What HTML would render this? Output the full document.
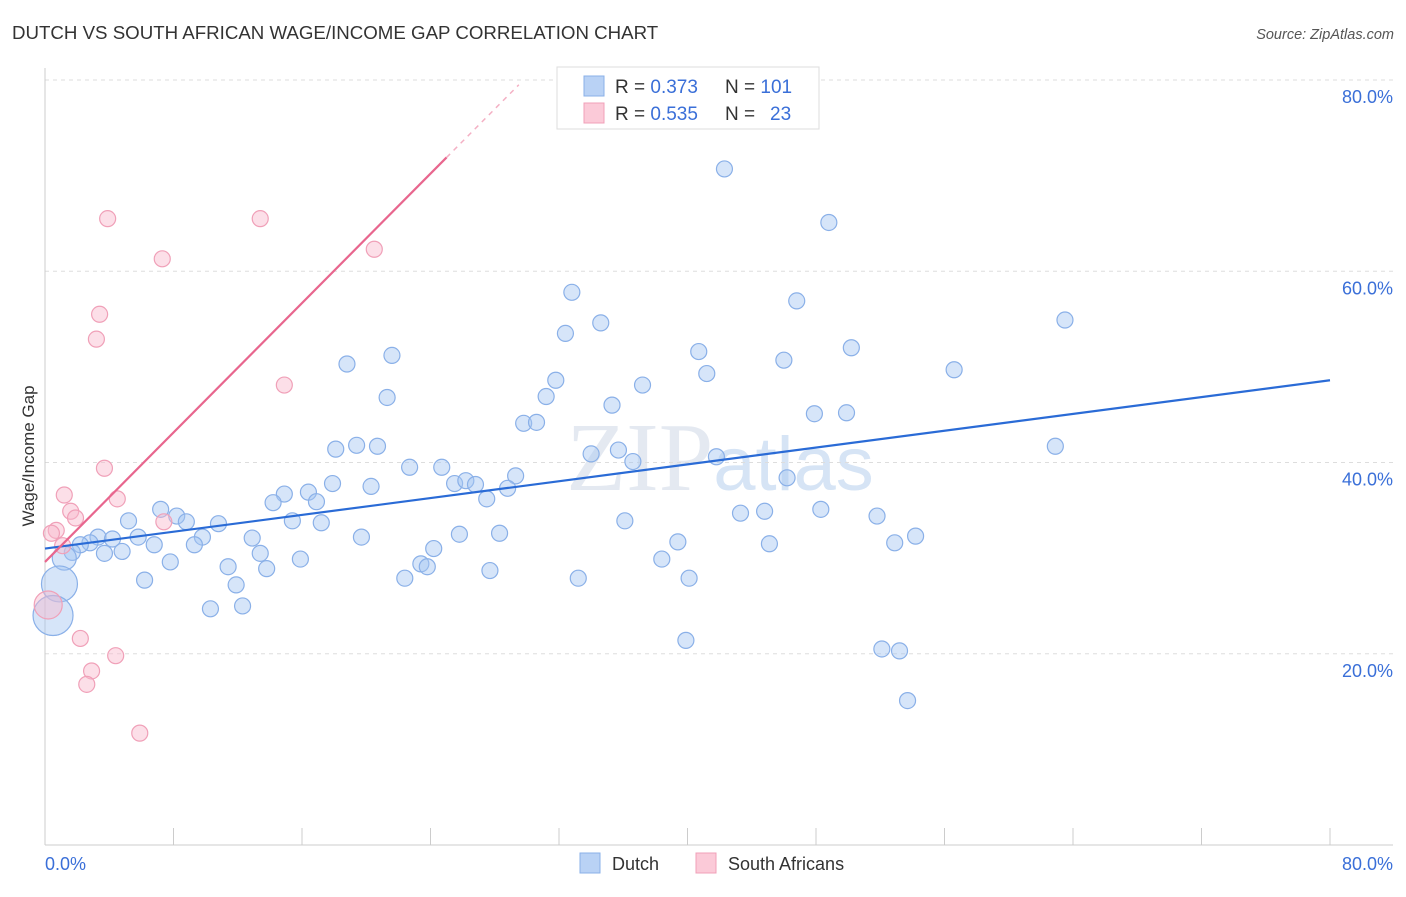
<!DOCTYPE html>
<html><head><meta charset="utf-8"><style>
body{margin:0;background:#fff;font-family:"Liberation Sans",sans-serif;}
</style></head><body>
<svg id="chart" width="1406" height="892" xmlns="http://www.w3.org/2000/svg" style="font-family:'Liberation Sans',sans-serif">
<text x="12" y="39" font-size="18.7" fill="#333">DUTCH VS SOUTH AFRICAN WAGE/INCOME GAP CORRELATION CHART</text>
<text x="1394" y="39" font-size="14.5" fill="#555" font-style="italic" text-anchor="end">Source: ZipAtlas.com</text>
<text x="720" y="490" font-size="98" fill="#e4e9f1" text-anchor="middle" font-family="Liberation Serif">ZIP<tspan fill="#d6e4f5" font-family="Liberation Sans" font-size="76">atlas</tspan></text>
<g id="grid"></g>
<g id="axes"></g>
<g id="marks"></g>
<text transform="translate(34,456) rotate(-90)" font-size="17" fill="#333" text-anchor="middle">Wage/Income Gap</text>
<text x="45" y="870" font-size="18" fill="#3a6fd8">0.0%</text>
<text x="1393" y="870" font-size="18" fill="#3a6fd8" text-anchor="end">80.0%</text>
<g>
<rect x="557" y="67" width="262" height="62" fill="#fff" stroke="#ddd"/>
<rect x="584" y="76" width="20" height="20" fill="#b9d2f5" stroke="#8ab0e8"/>
<rect x="584" y="103" width="20" height="20" fill="#fbcad8" stroke="#f0a0b8"/>
<text x="615" y="93" font-size="19" fill="#333">R = <tspan fill="#3a6fd8">0.373</tspan><tspan x="725">N = </tspan><tspan fill="#3a6fd8">101</tspan></text>
<text x="615" y="120" font-size="19" fill="#333">R = <tspan fill="#3a6fd8">0.535</tspan><tspan x="725">N = </tspan><tspan fill="#3a6fd8" x="770">23</tspan></text>
</g>
<g>
<rect x="580" y="853" width="20" height="20" fill="#b9d2f5" stroke="#8ab0e8"/>
<text x="612" y="870" font-size="18" fill="#333">Dutch</text>
<rect x="696" y="853" width="20" height="20" fill="#fbcad8" stroke="#f0a0b8"/>
<text x="728" y="870" font-size="18" fill="#333">South Africans</text>
</g>
</svg>
<script>
const yTicks=[20,40,60,80];
const yTickLabels=["20.0%","40.0%","60.0%","80.0%"];
const xTicks=[0,8,16,24,32,40,48,56,64,72,80];
const dutchX=[42.3,48.8,32.8,46.8,34.6,63.5,32.4,50.2,40.7,21.6,18.8,46.0,41.2,56.6,31.8,37.2,21.3,31.2,35.3,47.9,49.9,29.8,30.6,18.1,19.4,20.7,62.9,34.0,35.7,41.8,36.6,22.7,24.7,46.2,29.3,25.5,26.2,26.8,17.9,20.3,28.8,27.5,16.4,14.9,14.2,16.9,7.2,8.2,8.8,5.2,10.8,15.4,17.2,43.3,44.8,48.3,51.8,36.1,25.8,28.3,19.7,54.2,3.3,4.2,5.8,9.8,12.9,2.8,2.2,6.8,9.3,52.9,39.4,45.1,24.2,3.7,4.8,13.4,1.7,15.9,38.4,7.8,11.4,23.4,23.8,13.8,27.7,22.4,33.2,40.1,6.2,11.9,12.3,10.3,39.9,52.1,53.2,53.7,1.2,0.9,0.5];
const dutchY=[70.7,65.1,57.8,56.9,54.6,54.9,53.5,52.0,51.6,51.2,50.3,50.7,49.3,49.7,48.6,48.1,46.8,46.9,46.0,45.1,45.2,44.1,44.2,41.4,41.8,41.7,41.7,40.9,41.3,40.6,40.1,39.5,39.5,38.4,38.6,37.8,38.1,37.7,37.8,37.5,37.3,36.2,36.9,36.7,35.8,35.9,35.1,34.4,33.8,33.9,33.6,33.9,33.7,34.7,34.9,35.1,34.4,33.9,32.5,32.6,32.2,32.3,32.2,32.0,32.2,32.2,32.1,31.6,31.4,31.4,31.4,31.6,31.7,31.5,31.0,30.5,30.7,30.5,30.6,29.9,29.9,29.6,29.1,29.4,29.1,28.9,28.7,27.9,27.9,27.9,27.7,27.2,25.0,24.7,21.4,20.5,20.3,15.1,30.0,27.3,24.0];
const dutchSize=[8,8,8,8,8,8,8,8,8,8,8,8,8,8,8,8,8,8,8,8,8,8,8,8,8,8,8,8,8,8,8,8,8,8,8,8,8,8,8,8,8,8,8,8,8,8,8,8,8,8,8,8,8,8,8,8,8,8,8,8,8,8,8,8,8,8,8,8,8,8,8,8,8,8,8,8,8,8,8,8,8,8,8,8,8,8,8,8,8,8,8,8,8,8,8,8,8,8,12,18,20];
const saX=[3.9,13.4,7.3,20.5,3.4,3.2,14.9,3.7,1.2,4.5,1.6,1.9,0.7,7.4,0.4,1.1,2.2,2.9,2.6,4.4,5.9,0.2];
const saY=[65.5,65.5,61.3,62.3,55.5,52.9,48.1,39.4,36.6,36.2,34.9,34.2,32.9,33.8,32.6,31.3,21.6,18.2,16.8,19.8,11.7,25.1];
const saSize=[8,8,8,8,8,8,8,8,8,8,8,8,8,8,8,8,8,8,8,8,8,14];
const dutchTrend=[31.0,48.6];
const saTrend=[29.6,71.9,79.5];
const saTrendX=[0,25,29.5];

const X=v=>45+v*(1330-45)/80;
const Y=v=>845-v*(845-80)/80;
const NS="http://www.w3.org/2000/svg";
function mk(parent,tag,attrs){const e=document.createElementNS(NS,tag);for(const k in attrs)e.setAttribute(k,attrs[k]);document.getElementById(parent).appendChild(e);return e;}

yTicks.forEach((t,i)=>{
  const g=mk('grid','line',{x1:45,x2:1393,y1:Y(t),y2:Y(t),stroke:'#ddd','stroke-dasharray':'4,4'});
  
  
  const l=mk('grid','text',{x:1393,y:Y(t)+23,'font-size':18,fill:'#3a6fd8','text-anchor':'end'});
  l.textContent=yTickLabels[i];
  
  
});
const ya=mk('axes','line',{x1:45,x2:45,y1:68,y2:845,stroke:'#ccc'});


const xa=mk('axes','line',{x1:45,x2:1393,y1:845,y2:845,stroke:'#ccc'});


xTicks.forEach(t=>{
  const tk=mk('axes','line',{x1:X(t),x2:X(t),y1:828,y2:845,stroke:'#ccc'});
  
  
});
dutchX.forEach((x,i)=>{
  const c=mk('marks','circle',{cx:X(x),cy:Y(dutchY[i]),r:dutchSize[i],fill:'rgba(165,198,242,0.45)',stroke:'#8ab0e8','stroke-width':1.2});
  
  
});
saX.forEach((x,i)=>{
  const c=mk('marks','circle',{cx:X(x),cy:Y(saY[i]),r:saSize[i],fill:'rgba(248,185,205,0.45)',stroke:'#f0a0b8','stroke-width':1.2});
  
  
});
const bt=mk('marks','line',{x1:X(0),y1:Y(dutchTrend[0]),x2:X(80),y2:Y(dutchTrend[1]),stroke:'#2a6bd6','stroke-width':2.2});


const pt=mk('marks','line',{x1:X(saTrendX[0]),y1:Y(saTrend[0]),x2:X(saTrendX[1]),y2:Y(saTrend[1]),stroke:'#e8668e','stroke-width':2.2});


const pd=mk('marks','line',{x1:X(saTrendX[1]),y1:Y(saTrend[1]),x2:X(saTrendX[2]),y2:Y(saTrend[2]),stroke:'#f4b0c4','stroke-width':1.5,'stroke-dasharray':'5,5'});


</script>
</body></html>
